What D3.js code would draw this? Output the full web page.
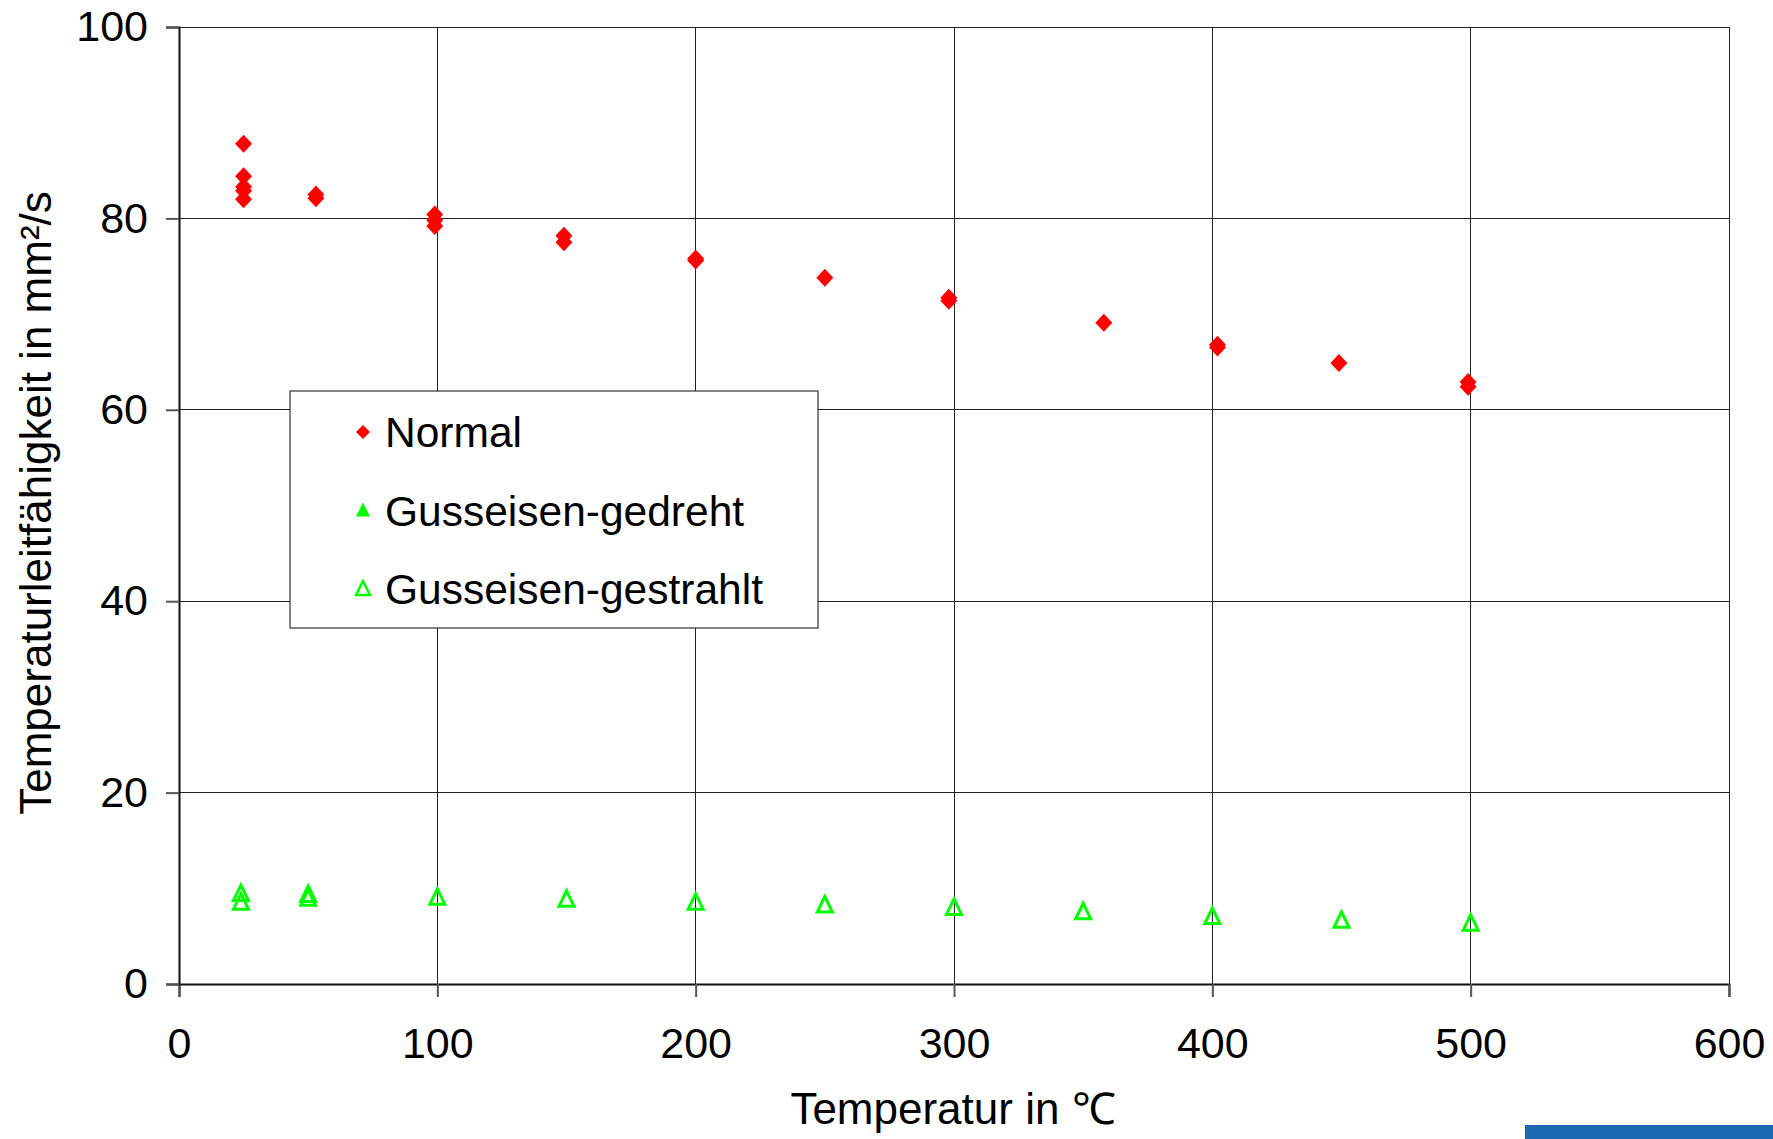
<!DOCTYPE html>
<html>
<head>
    <meta charset="utf-8">
    <title>Temperaturleitfähigkeit</title>
    <script src="https://cdn.jsdelivr.net/npm/d3@7"></script>
    <style>
        body { margin: 0; background: #fff; }
        text { font-family: "Liberation Sans", Arial, sans-serif; fill: #000; }
    </style>
</head>
<body>
<script>
    // data
    var normalT = [25, 25, 25, 25, 25, 53, 53, 99, 99, 99, 149, 149, 200, 200, 250, 298, 298, 358, 402, 402, 449, 499, 499];
    var normalA = [87.8, 84.4, 83.3, 82.9, 82.0, 82.5, 82.1, 80.4, 79.8, 79.2, 78.2, 77.5, 75.8, 75.6, 73.8, 71.7, 71.4, 69.1, 66.8, 66.5, 64.9, 62.9, 62.4];
    var gedrehtT = [];
    var gedrehtA = [];
    var gestrahltT = [24, 24, 50, 50, 100, 150, 200, 250, 300, 350, 400, 450, 500];
    var gestrahltA = [9.4, 8.5, 9.3, 8.9, 9.0, 8.8, 8.5, 8.2, 7.95, 7.5, 7.0, 6.6, 6.3];
    var xTicks = [0, 100, 200, 300, 400, 500, 600];
    var yTicks = [0, 20, 40, 60, 80, 100];
    var seriesNames = ['Normal', 'Gusseisen-gedreht', 'Gusseisen-gestrahlt'];

    var width = 1773, height = 1139;
    var padding = {top: 27, right: 44, bottom: 155, left: 179};
    var svg = d3.select('body').append('svg').attr('width', width).attr('height', height);

    var x = d3.scaleLinear().domain([0, 600]).range([padding.left, width - padding.right]);
    var y = d3.scaleLinear().domain([0, 100]).range([height - padding.bottom, padding.top]);

    var diamond = 'M0,-9L8.5,0L0,9L-8.5,0Z';
    var triangle = 'M0,-9L7.5,6.5L-7.5,6.5Z';

    // gridlines
    svg.append('g').selectAll('line.gx').data(xTicks.slice(1)).enter().append('line')
            .attr('x1', function (d) { return x(d); }).attr('x2', function (d) { return x(d); })
            .attr('y1', y(0)).attr('y2', y(100))
            .attr('stroke', '#222').attr('stroke-width', 1).attr('shape-rendering', 'crispEdges');
    svg.append('g').selectAll('line.gy').data(yTicks.slice(1)).enter().append('line')
            .attr('x1', x(0)).attr('x2', x(600))
            .attr('y1', function (d) { return y(d); }).attr('y2', function (d) { return y(d); })
            .attr('stroke', '#222').attr('stroke-width', 1).attr('shape-rendering', 'crispEdges');

    // axes
    var xAxis = svg.append('g').attr('transform', 'translate(0,' + y(0) + ')')
            .call(d3.axisBottom(x).tickValues(xTicks).tickSize(13).tickPadding(30));
    var yAxis = svg.append('g').attr('transform', 'translate(' + x(0) + ',0)')
            .call(d3.axisLeft(y).tickValues(yTicks).tickSize(13).tickPadding(18));
    [xAxis, yAxis].forEach(function (a) {
        a.select('.domain').attr('stroke', '#111').attr('stroke-width', 2);
        a.selectAll('.tick line').attr('stroke', '#555').attr('stroke-width', 2);
        a.selectAll('text').attr('font-size', 43).attr('font-family', '"Liberation Sans", Arial, sans-serif').attr('fill', '#000');
    });
    xAxis.selectAll('text').attr('dy', '0.71em');

    // axis titles
    svg.append('text').attr('x', 953).attr('y', 1124)
            .attr('text-anchor', 'middle').attr('font-size', 44).text('Temperatur in \u2103');
    svg.append('text').attr('transform', 'translate(51,' + 503 + ') rotate(-90)')
            .attr('text-anchor', 'middle').attr('font-size', 44).text('Temperaturleitfähigkeit in mm²/s');

    // series
    svg.append('g').selectAll('path').data(d3.zip(gestrahltT, gestrahltA)).enter().append('path')
            .attr('d', triangle)
            .attr('transform', function (d) { return 'translate(' + x(d[0]) + ',' + y(d[1]) + ')'; })
            .attr('fill', 'none').attr('stroke', '#00ff00').attr('stroke-width', 3);
    svg.append('g').selectAll('path').data(d3.zip(gedrehtT, gedrehtA)).enter().append('path')
            .attr('d', triangle)
            .attr('transform', function (d) { return 'translate(' + x(d[0]) + ',' + y(d[1]) + ')'; })
            .attr('fill', '#00ff00');
    svg.append('g').selectAll('path').data(d3.zip(normalT, normalA)).enter().append('path')
            .attr('d', diamond)
            .attr('transform', function (d) { return 'translate(' + x(d[0]) + ',' + y(d[1]) + ')'; })
            .attr('fill', '#ff0000');

    // legend
    var legend = svg.append('g').attr('transform', 'translate(290,391)');
    legend.append('rect').attr('width', 528).attr('height', 237)
            .attr('fill', '#fff').attr('stroke', '#333').attr('stroke-width', 1.2);
    var rows = legend.selectAll('g.row').data(seriesNames).enter().append('g')
            .attr('transform', function (d, i) { return 'translate(0,' + (41 + i * 78.5) + ')'; });
    rows.append('path')
            .attr('d', function (d, i) { return i === 0 ? 'M0,-7L7,0L0,7L-7,0Z' : 'M0,-8L7,6L-7,6Z'; })
            .attr('transform', 'translate(73,0)')
            .attr('fill', function (d, i) { return i === 2 ? 'none' : (i === 0 ? '#ff0000' : '#00ff00'); })
            .attr('stroke', function (d, i) { return i === 2 ? '#00ff00' : 'none'; })
            .attr('stroke-width', 2.5);
    rows.append('text').attr('x', 95).attr('dy', '0.36em').attr('font-size', 42.5)
            .text(function (d) { return d; });

    // blue bar at the bottom right
    svg.append('rect').attr('x', 1525).attr('y', 1125).attr('width', 248).attr('height', 14).attr('fill', '#1a69b0');
</script>
</body>
</html>
